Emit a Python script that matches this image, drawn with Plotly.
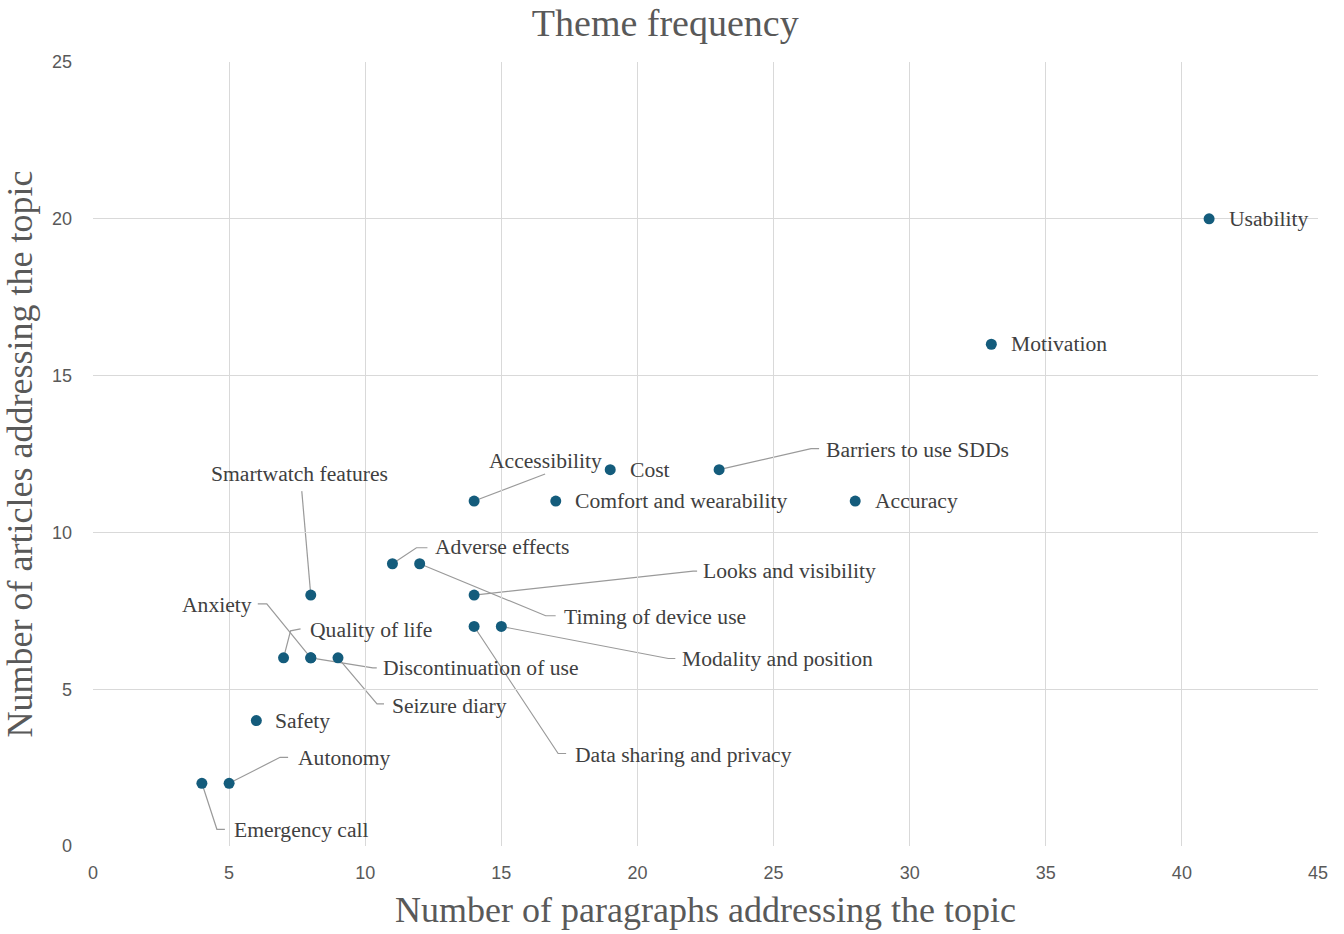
import plotly.graph_objects as go

# ---- data ----
themes = ["Usability", "Motivation", "Barriers to use SDDs", "Cost", "Accessibility",
          "Comfort and wearability", "Accuracy", "Smartwatch features", "Adverse effects",
          "Timing of device use", "Looks and visibility", "Modality and position",
          "Data sharing and privacy", "Anxiety", "Discontinuation of use", "Seizure diary",
          "Quality of life", "Safety", "Autonomy", "Emergency call"]
paragraphs = [41, 33, 23, 19, 14, 17, 28, 8, 11, 12, 14, 15, 14, 8, 8, 9, 7, 6, 5, 4]
articles = [20, 16, 12, 12, 11, 11, 11, 8, 9, 9, 8, 7, 7, 6, 6, 6, 6, 4, 2, 2]

x_ticks = [0, 5, 10, 15, 20, 25, 30, 35, 40, 45]
y_ticks = [0, 5, 10, 15, 20, 25]

# ---- label layout (pixel offsets from the point; +y is up) ----
# leader: list of pixel vertices after the point; label: (xshift, yshift, xanchor)
label_layout = {
    "Usability": (None, (18, 0, "left")),
    "Motivation": (None, (18, 0, "left")),
    "Cost": (None, (18, 0, "left")),
    "Comfort and wearability": (None, (17, 0, "left")),
    "Accuracy": (None, (18, 0, "left")),
    "Safety": (None, (17, 0, "left")),
    "Barriers to use SDDs": ([(92, 21), (100, 21)], (105, 20, "left")),
    "Accessibility": ([(71, 27)], (71, 40, "center")),
    "Smartwatch features": ([(-9, 104)], (-11, 121, "center")),
    "Adverse effects": ([(24, 16), (35, 16)], (41, 17, "left")),
    "Timing of device use": ([(126, -52), (136, -52)], (142, -53, "left")),
    "Looks and visibility": ([(219, 24), (223, 24)], (227, 24, "left")),
    "Modality and position": ([(167, -32), (174, -32)], (179, -33, "left")),
    "Data sharing and privacy": ([(84, -127), (92, -127)], (99, -129, "left")),
    "Anxiety": ([(-44, 54), (-53, 54)], (-57, 53, "right")),
    "Discontinuation of use": ([(62, -10), (66, -10)], (70, -10, "left")),
    "Seizure diary": ([(39, -46), (46, -46)], (52, -48, "left")),
    "Quality of life": ([(7, 27), (17, 29)], (24, 28, "left")),
    "Autonomy": ([(51, 26), (59, 26)], (67, 25, "left")),
    "Emergency call": ([(15, -46), (23, -46)], (30, -47, "left")),
}

SERIF = "Liberation Serif, Times New Roman, serif"
SANS = "Liberation Sans, Arial, sans-serif"
MARKER = "#145c7c"
LABEL = "#404040"
GRAY = "#595959"
LEADER = "#9a9a9a"

fig = go.Figure()
fig.add_trace(go.Scatter(
    x=paragraphs, y=articles, mode="markers", text=themes,
    marker=dict(color=MARKER, size=11),
    hovertemplate="%{text}: %{x}, %{y}<extra></extra>",
    showlegend=False,
))

shapes = []
annotations = []
for name, px, py in zip(themes, paragraphs, articles):
    leader, (xs, ys, xa) = label_layout[name]
    if leader:
        path = "M0,0 " + " ".join(f"L{dx},{dy}" for dx, dy in leader)
        shapes.append(dict(type="path", xref="x", yref="y",
                           xsizemode="pixel", ysizemode="pixel",
                           xanchor=px, yanchor=py, path=path,
                           line=dict(color=LEADER, width=1.2), layer="below"))
    annotations.append(dict(x=px, y=py, xref="x", yref="y", text=name,
                            showarrow=False, xanchor=xa, yanchor="middle",
                            xshift=xs, yshift=ys,
                            font=dict(family=SERIF, size=21.6, color=LABEL)))

fig.update_layout(
    width=1344, height=934,
    paper_bgcolor="white", plot_bgcolor="white",
    margin=dict(l=93, r=26, t=62, b=88),
    title=dict(text="Theme frequency", x=0.495, xanchor="center", y=0.976, yanchor="middle",
               font=dict(family=SERIF, size=38, color=GRAY)),
    shapes=shapes, annotations=annotations,
    xaxis=dict(range=[0, 45], tickvals=x_ticks, showgrid=True, gridcolor="#d9d9d9", gridwidth=1,
               zeroline=False, showline=False, ticks="", ticklabelstandoff=14,
               tickfont=dict(family=SANS, size=18, color=GRAY),
               title=dict(text="Number of paragraphs addressing the topic", standoff=14,
                          font=dict(family=SERIF, size=36, color=GRAY))),
    yaxis=dict(range=[0, 25], tickvals=y_ticks, showgrid=True, gridcolor="#d9d9d9", gridwidth=1,
               zeroline=False, showline=False, ticks="", ticklabelstandoff=20,
               tickfont=dict(family=SANS, size=18, color=GRAY),
               title=dict(text="Number of articles addressing the topic", standoff=8,
                          font=dict(family=SERIF, size=36, color=GRAY))),
)

fig.write_html("out.html", config={"displayModeBar": False},
               post_script="document.body.style.margin='0';document.body.style.overflow='hidden';")
